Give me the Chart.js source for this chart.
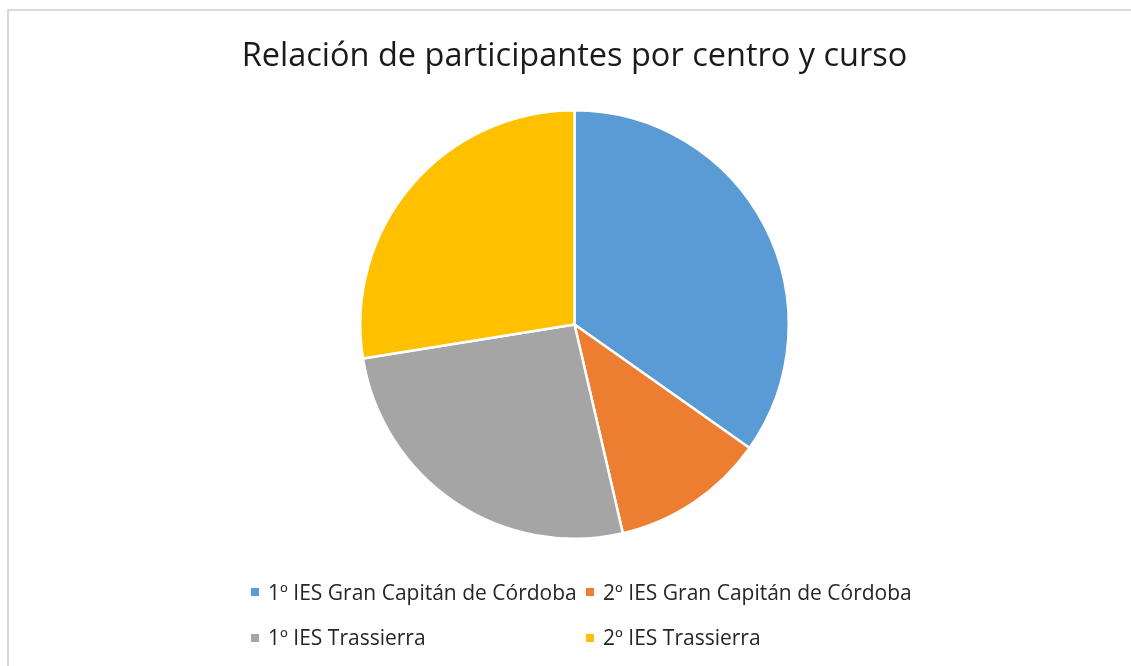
<!DOCTYPE html>
<html>
<head>
<meta charset="utf-8">
<script src="https://cdn.jsdelivr.net/npm/chart.js@4/dist/chart.umd.min.js"></script>
<style>
  html, body { margin: 0; padding: 0; background: #fff; }
  #wrap { position: relative; width: 1131px; height: 666px; overflow: hidden; }
  #frame { position: absolute; left: 7px; top: 9px; width: 1200px; height: 700px;
           border-left: 2px solid #d9d9d9; border-top: 2px solid #d9d9d9; box-sizing: border-box; }
  canvas { position: absolute; left: 0; top: 0; }
  .sq { position: absolute; width: 8px; height: 8px; }
  .leg { position: absolute; font-family: "Open Sans", sans-serif; font-size: 21px; color: #262626;
         white-space: nowrap; line-height: 24px; }
</style>
</head>
<body>
<div id="wrap">
  <div id="frame"></div>
  <canvas id="c" width="1131" height="666"></canvas>
  <div id="legend"></div>
</div>
<script>
const categories = ["1º IES Gran Capitán de Córdoba", "2º IES Gran Capitán de Córdoba", "1º IES Trassierra", "2º IES Trassierra"];
const participants = [24, 8, 18, 19];
const colors = ["#5B9BD5", "#ED7D31", "#A5A5A5", "#FFC000"];
const titleText = "Relación de participantes por centro y curso";

new Chart(document.getElementById("c"), {
  type: "pie",
  data: {
    labels: categories,
    datasets: [{ data: participants, backgroundColor: colors, borderColor: "#ffffff", borderWidth: 2.5 }]
  },
  options: {
    responsive: false,
    animation: false,
    layout: { padding: { top: 30, left: 18, right: 0, bottom: 126 } },
    plugins: {
      legend: { display: false },
      tooltip: { enabled: false },
      title: {
        display: true, text: titleText, color: "#1a1a1a",
        font: { family: "'Open Sans', sans-serif", size: 32.5, weight: "normal", lineHeight: 1.2 },
        padding: { top: 7.5, bottom: 32.5 }
      }
    }
  }
});

const legendPos = [[251, 580], [586, 580], [251, 625], [586, 625]];
const leg = document.getElementById("legend");
categories.forEach((c, i) => {
  const s = document.createElement("div");
  s.className = "sq";
  s.style.left = legendPos[i][0] + "px";
  s.style.top = (legendPos[i][1] + 8 + (i >= 2 ? 1 : 0)) + "px";
  s.style.background = colors[i];
  leg.appendChild(s);
  const d = document.createElement("div");
  d.className = "leg";
  d.style.left = (legendPos[i][0] + 17) + "px";
  d.style.top = legendPos[i][1] + "px";
  d.textContent = c;
  leg.appendChild(d);
});
</script>
</body>
</html>
